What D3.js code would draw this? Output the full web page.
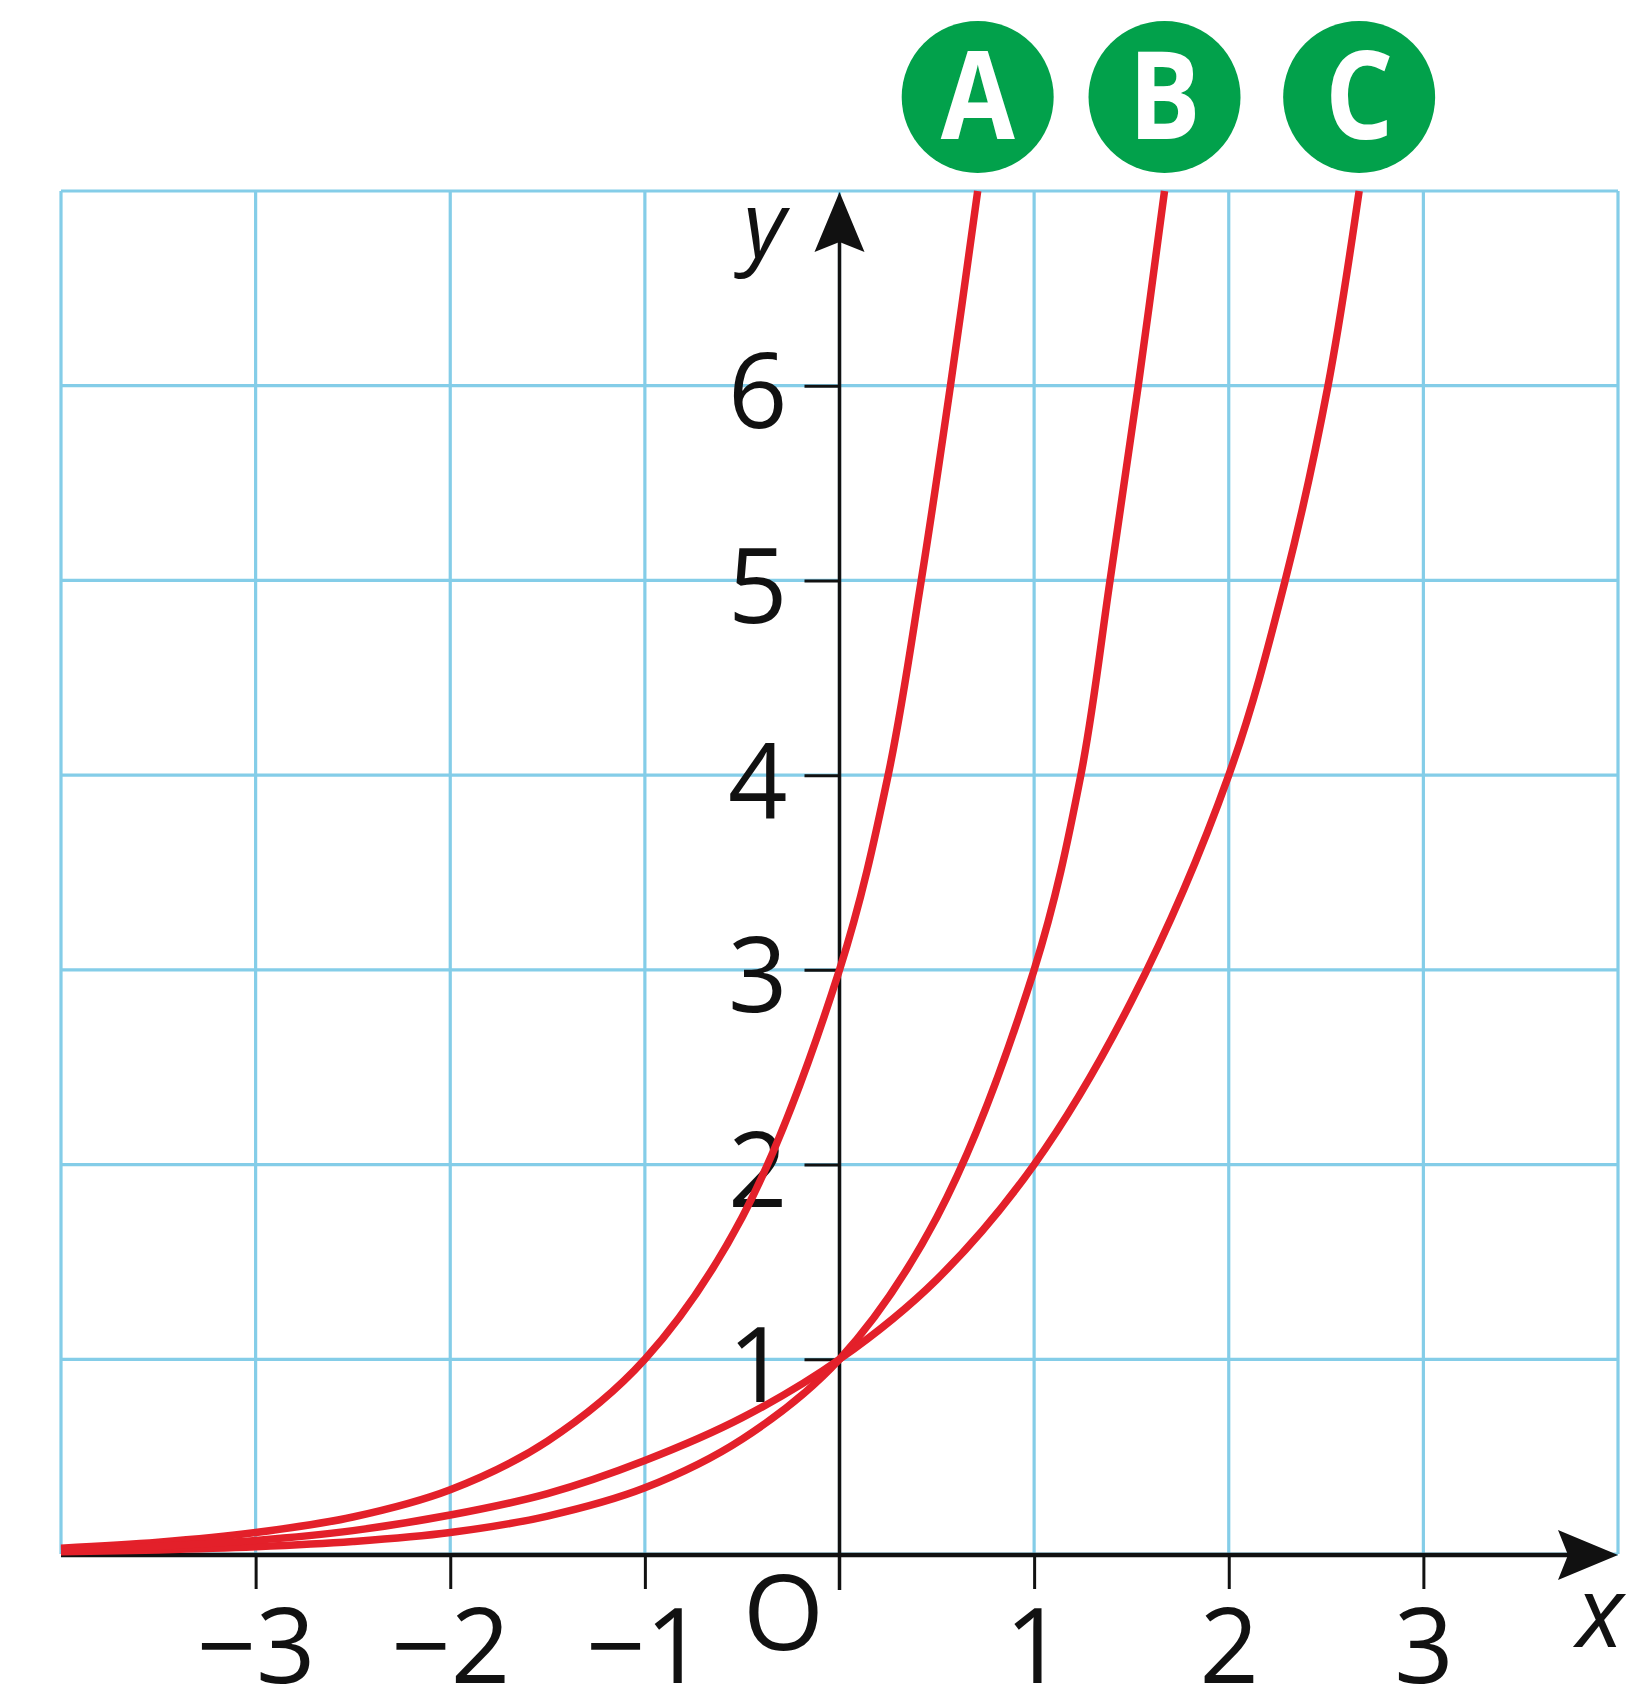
<!DOCTYPE html>
<html>
<head>
<meta charset="utf-8">
<script src="https://cdn.jsdelivr.net/npm/d3@7"></script>
<style>
  html, body { margin: 0; padding: 0; background: #ffffff; }
  svg { display: block; }
  text { font-family: "Open Sans", "Noto Sans", sans-serif; }
</style>
</head>
<body>
<svg id="chart" width="1631" height="1698"></svg>
<script>
// Graph labels
const curveNames = ["A", "B", "C"];

// Points: x values and matching y values
const curveAx = [-4, -3.5, -3, -2.5, -2, -1.5, -1, -0.5, 0, 0.25, 0.42, 0.57, 0.71];
const curveAy = [0.03, 0.06, 0.11, 0.19, 0.33, 0.58, 1.0, 1.73, 3.0, 4.0, 5.0, 6.0, 7.0];

const curveBx = [-4, -3.5, -3, -2.5, -2, -1.5, -1, -0.5, 0, 0.5, 1.0, 1.24, 1.39, 1.535, 1.67];
const curveBy = [0.012, 0.021, 0.037, 0.064, 0.11, 0.195, 0.34, 0.59, 1.0, 1.73, 3.0, 4.0, 5.0, 6.0, 7.0];

const curveCx = [-4, -3.5, -3, -2.5, -2, -1.5, -1, -0.5, 0, 0.5, 1.0, 1.5, 2.0, 2.29, 2.51, 2.67];
const curveCy = [0.02, 0.04, 0.07, 0.12, 0.2, 0.31, 0.48, 0.7, 1.0, 1.41, 2.0, 2.84, 4.0, 5.0, 6.0, 7.0];

// Axis ticks
const xTickValues = [-3, -2, -1, 1, 2, 3];
const yTickValues = [1, 2, 3, 4, 5, 6];
const xGridValues = [-4, -3, -2, -1, 0, 1, 2, 3, 4];
const yGridValues = [0, 1, 2, 3, 4, 5, 6, 7];

const series = [
  { name: curveNames[0], xs: curveAx, ys: curveAy },
  { name: curveNames[1], xs: curveBx, ys: curveBy },
  { name: curveNames[2], xs: curveCx, ys: curveCy }
].map(s => ({ name: s.name, points: s.xs.map((v, i) => ({ x: v, y: s.ys[i] })) }));

const svg = d3.select("#chart");

const x = d3.scaleLinear().domain([-4, 4]).range([61, 1618]);
const y = d3.scaleLinear().domain([0, 7]).range([1554, 191]);

const gridColor = "#84cde8";
const red = "#e3202a";
const green = "#02a14b";
const fontSize = 104;
const fmt = d3.format("d");

// Grid
const grid = svg.append("g");
grid.selectAll("line.v").data(xGridValues).join("line")
  .attr("x1", d => x(d)).attr("x2", d => x(d))
  .attr("y1", y(0)).attr("y2", y(7))
  .attr("stroke", gridColor).attr("stroke-width", 3.2);
grid.selectAll("line.h").data(yGridValues).join("line")
  .attr("x1", x(-4)).attr("x2", x(4))
  .attr("y1", d => y(d)).attr("y2", d => y(d))
  .attr("stroke", gridColor).attr("stroke-width", 3.2);

// x axis
const xAxis = d3.axisBottom(x).tickValues(xTickValues).tickFormat(fmt).tickSize(34).tickSizeOuter(0);
const gx = svg.append("g").attr("transform", `translate(0,${y(0) + 1})`).call(xAxis);
gx.select(".domain").remove();
gx.selectAll(".tick line").attr("stroke", "#111").attr("stroke-width", 3);
gx.selectAll(".tick text")
  .attr("y", 128).attr("dy", 0)
  .attr("fill", "#111")
  .style("font-size", fontSize + "px")
  .style("font-family", "'Open Sans', sans-serif");

// y axis
const yAxis = d3.axisLeft(y).tickValues(yTickValues).tickFormat(fmt).tickSize(35).tickSizeOuter(0);
const gy = svg.append("g").attr("transform", `translate(${x(0)},0)`).call(yAxis);
gy.select(".domain").remove();
gy.selectAll(".tick line").attr("stroke", "#111").attr("stroke-width", 3);
gy.selectAll(".tick text")
  .attr("x", -52).attr("dy", 0).attr("y", 42)
  .attr("fill", "#111")
  .attr("text-anchor", "end")
  .style("font-size", fontSize + "px")
  .style("font-family", "'Open Sans', sans-serif");

// Axis lines with arrowheads
const axisG = svg.append("g");
axisG.append("line")
  .attr("x1", x(-4)).attr("x2", x(4) - 40)
  .attr("y1", y(0) + 1).attr("y2", y(0) + 1)
  .attr("stroke", "#111").attr("stroke-width", 4.5);
axisG.append("path")
  .attr("d", `M${x(4)},${y(0) + 1} L${x(4) - 60},${y(0) - 24} L${x(4) - 50},${y(0) + 1} L${x(4) - 60},${y(0) + 26} Z`)
  .attr("fill", "#111");
axisG.append("line")
  .attr("x1", x(0)).attr("x2", x(0))
  .attr("y1", y(0) + 36).attr("y2", y(7) + 40)
  .attr("stroke", "#111").attr("stroke-width", 3.5);
axisG.append("path")
  .attr("d", `M${x(0)},${y(7) + 1} L${x(0) - 25},${y(7) + 61} L${x(0)},${y(7) + 51} L${x(0) + 25},${y(7) + 61} Z`)
  .attr("fill", "#111");

// Axis names and origin
svg.append("text").text("y")
  .attr("x", x(0) - 75).attr("y", y(7) + 66)
  .attr("text-anchor", "middle")
  .style("font-style", "italic").style("font-size", "92px").attr("fill", "#111");
svg.append("text").text("x")
  .attr("x", x(4) - 18).attr("y", y(0) + 93)
  .attr("text-anchor", "middle")
  .style("font-style", "italic").style("font-size", "98px").attr("fill", "#111");
svg.append("text").text("O")
  .attr("x", x(0) - 56).attr("y", y(0) + 96)
  .attr("text-anchor", "middle")
  .style("font-size", fontSize + "px").attr("fill", "#111");

// Curves
const line = d3.line().x(d => x(d.x)).y(d => y(d.y)).curve(d3.curveCatmullRom.alpha(0.5));
svg.append("g").selectAll("path").data(series).join("path")
  .attr("d", d => line(d.points))
  .attr("fill", "none")
  .attr("stroke", red)
  .attr("stroke-width", 7.5)
  .attr("stroke-linecap", "butt")
  .attr("stroke-linejoin", "round");

// Curve name badges above each curve's top end
const badges = svg.append("g").selectAll("g").data(series).join("g")
  .attr("transform", d => `translate(${x(d.points[d.points.length - 1].x)},${y(7) - 94})`);
badges.append("circle").attr("r", 76).attr("fill", green);
badges.append("text").text(d => d.name)
  .attr("text-anchor", "middle")
  .attr("transform", "scale(0.88,1)")
  .attr("y", 42)
  .attr("fill", "#ffffff")
  .style("font-weight", "700")
  .style("font-size", "122px");
</script>
</body>
</html>
